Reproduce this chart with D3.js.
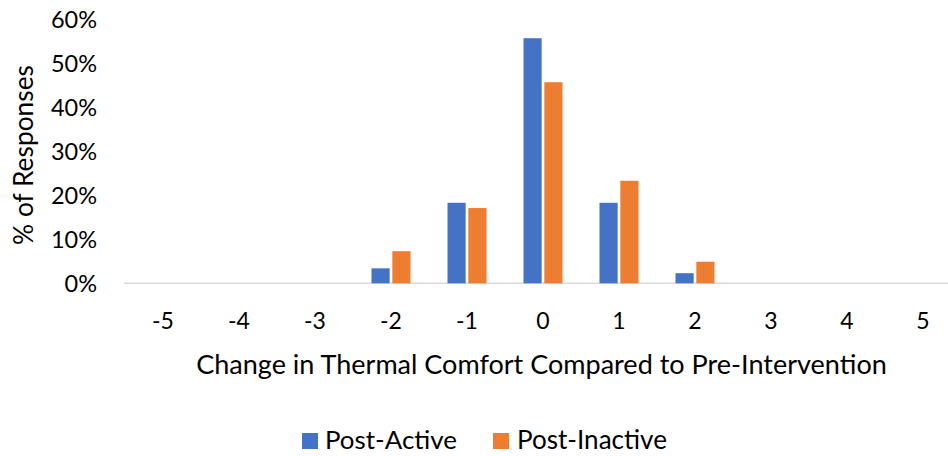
<!DOCTYPE html>
<html>
<head>
<meta charset="utf-8">
<script src="https://cdn.jsdelivr.net/npm/d3@7"></script>
<style>
  html, body { margin: 0; padding: 0; background: #ffffff; }
  svg { display: block; }
  text { font-family: Lato, "Open Sans", sans-serif; fill: #000000; }
</style>
</head>
<body>
<svg id="chart" width="948" height="456"></svg>
<script>
// ---- data ----
const categories = ["-5", "-4", "-3", "-2", "-1", "0", "1", "2", "3", "4", "5"];
const seriesNames = ["Post-Active", "Post-Inactive"];
const postActive   = [0, 0, 0, 3.4, 18.3, 55.7, 18.3, 2.3, 0, 0, 0];
const postInactive = [0, 0, 0, 7.3, 17.1, 45.7, 23.3, 4.9, 0, 0, 0];
const yTicks = [0, 10, 20, 30, 40, 50, 60];
const colors = ["#4472C4", "#ED7D31"];
const xTitle = "Change in Thermal Comfort Compared to Pre-Intervention";
const yTitle = "% of Responses";

const svg = d3.select("#chart");

const x0 = d3.scaleBand().domain(categories).range([125, 961]).padding(0);
const groupW = 39;
const x1 = d3.scaleBand().domain(seriesNames).range([0, groupW]).paddingInner(5 / 39);
const y = d3.scaleLinear().domain([0, 60]).range([283.3, 19.3]);

function fit(sel, target, base) {
  sel.attr("font-size", base);
  const w = sel.node().getComputedTextLength();
  sel.attr("font-size", base * target / w);
}

// baseline gridline
svg.append("line")
  .attr("x1", 124).attr("x2", 948)
  .attr("y1", y(0)).attr("y2", y(0))
  .attr("stroke", "#d9d9d9").attr("stroke-width", 1.5);

// y axis labels
const yAxis = d3.axisLeft(y).tickValues(yTicks).tickFormat(d => d + "%").tickSize(0).tickPadding(0);
const gy = svg.append("g").attr("transform", "translate(97,0)").call(yAxis);
gy.select(".domain").remove();
gy.selectAll("text")
  .attr("font-size", 23.5).attr("font-family", "Lato, 'Open Sans', sans-serif")
  .attr("fill", "#000").attr("dy", "0.36em");

// x axis labels
const xAxis = d3.axisBottom(x0).tickSize(0).tickPadding(0);
const gx = svg.append("g").attr("transform", "translate(0,312)").call(xAxis);
gx.select(".domain").remove();
gx.selectAll("text")
  .attr("font-size", 23).attr("font-family", "Lato, 'Open Sans', sans-serif")
  .attr("fill", "#000").attr("dy", "0.72em");

// bars
const rows = categories.map((c, i) => ({ cat: c, vals: [postActive[i], postInactive[i]] }));
const groups = svg.append("g").selectAll("g").data(rows).join("g")
  .attr("transform", d => `translate(${x0(d.cat) + (x0.bandwidth() - groupW) / 2},0)`);
groups.selectAll("rect")
  .data(d => d.vals.map((v, k) => ({ name: seriesNames[k], v, k })))
  .join("rect")
  .attr("x", d => x1(d.name))
  .attr("width", x1.bandwidth())
  .attr("y", d => y(d.v))
  .attr("height", d => y(0) - y(d.v))
  .attr("fill", d => colors[d.k]);

// x title
const xt = svg.append("text")
  .attr("x", 541.5).attr("y", 374)
  .attr("text-anchor", "middle")
  .text(xTitle);
fit(xt, 691, 24);

// y title
const yt = svg.append("text")
  .attr("transform", "translate(33,155) rotate(-90)")
  .attr("text-anchor", "middle")
  .text(yTitle);
fit(yt, 180, 24);

// legend
const legendItems = [
  { name: seriesNames[0], color: colors[0], sx: 302, tx: 325, tw: 132 },
  { name: seriesNames[1], color: colors[1], sx: 493, tx: 517, tw: 150 }
];
const lg = svg.append("g");
legendItems.forEach(it => {
  lg.append("rect").attr("x", it.sx).attr("y", 433).attr("width", 16).attr("height", 16).attr("fill", it.color);
  const t = lg.append("text").attr("x", it.tx).attr("y", 449).text(it.name);
  fit(t, it.tw, 24);
});
</script>
</body>
</html>
